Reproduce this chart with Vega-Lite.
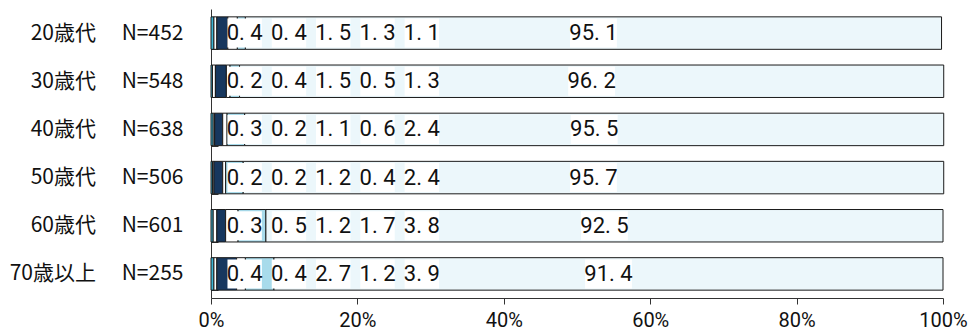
{
  "$schema": "https://vega.github.io/schema/vega-lite/v6.json",
  "width": 732,
  "height": 289,
  "autosize": {"type": "none"},
  "padding": {"left": 211, "top": 9, "right": 26, "bottom": 37},
  "background": "white",
  "config": {"view": {"stroke": null}, "font": "Noto Sans CJK JP"},
  "data": {
    "values": [
      {"age": "20歳代", "n": 452, "k": 1, "v": 0.4},
      {"age": "20歳代", "n": 452, "k": 2, "v": 0.4},
      {"age": "20歳代", "n": 452, "k": 3, "v": 1.5},
      {"age": "20歳代", "n": 452, "k": 4, "v": 1.3},
      {"age": "20歳代", "n": 452, "k": 5, "v": 1.1},
      {"age": "20歳代", "n": 452, "k": 6, "v": 95.1},
      {"age": "30歳代", "n": 548, "k": 1, "v": 0.2},
      {"age": "30歳代", "n": 548, "k": 2, "v": 0.4},
      {"age": "30歳代", "n": 548, "k": 3, "v": 1.5},
      {"age": "30歳代", "n": 548, "k": 4, "v": 0.5},
      {"age": "30歳代", "n": 548, "k": 5, "v": 1.3},
      {"age": "30歳代", "n": 548, "k": 6, "v": 96.2},
      {"age": "40歳代", "n": 638, "k": 1, "v": 0.3},
      {"age": "40歳代", "n": 638, "k": 2, "v": 0.2},
      {"age": "40歳代", "n": 638, "k": 3, "v": 1.1},
      {"age": "40歳代", "n": 638, "k": 4, "v": 0.6},
      {"age": "40歳代", "n": 638, "k": 5, "v": 2.4},
      {"age": "40歳代", "n": 638, "k": 6, "v": 95.5},
      {"age": "50歳代", "n": 506, "k": 1, "v": 0.2},
      {"age": "50歳代", "n": 506, "k": 2, "v": 0.2},
      {"age": "50歳代", "n": 506, "k": 3, "v": 1.2},
      {"age": "50歳代", "n": 506, "k": 4, "v": 0.4},
      {"age": "50歳代", "n": 506, "k": 5, "v": 2.4},
      {"age": "50歳代", "n": 506, "k": 6, "v": 95.7},
      {"age": "60歳代", "n": 601, "k": 1, "v": 0.3},
      {"age": "60歳代", "n": 601, "k": 2, "v": 0.5},
      {"age": "60歳代", "n": 601, "k": 3, "v": 1.2},
      {"age": "60歳代", "n": 601, "k": 4, "v": 1.7},
      {"age": "60歳代", "n": 601, "k": 5, "v": 3.8},
      {"age": "60歳代", "n": 601, "k": 6, "v": 92.5},
      {"age": "70歳以上", "n": 255, "k": 1, "v": 0.4},
      {"age": "70歳以上", "n": 255, "k": 2, "v": 0.4},
      {"age": "70歳以上", "n": 255, "k": 3, "v": 2.7},
      {"age": "70歳以上", "n": 255, "k": 4, "v": 1.2},
      {"age": "70歳以上", "n": 255, "k": 5, "v": 3.9},
      {"age": "70歳以上", "n": 255, "k": 6, "v": 91.4}
    ]
  },
  "transform": [
    {"calculate": "datum.age + '\u3000 N=' + datum.n", "as": "grp"},
    {"stack": "v", "groupby": ["grp"], "sort": [{"field": "k", "order": "ascending"}], "as": ["x0", "x1"]},
    {"calculate": "datum.k < 6 ? 4.6 + (datum.k - 1) * 6.05 : (datum.x0 + datum.x1) / 2", "as": "cx"},
    {"calculate": "datum.k < 6 ? 2.35 : 3.2", "as": "hw"},
    {"calculate": "datum.cx - datum.hw", "as": "bx0"},
    {"calculate": "datum.cx + datum.hw", "as": "bx1"},
    {"calculate": "replace(format(datum.v, '.1f'), '.', '. ')", "as": "txt"}
  ],
  "encoding": {
    "y": {
      "field": "grp",
      "type": "nominal",
      "sort": null,
      "scale": {"paddingInner": 0.326, "paddingOuter": 0.163},
      "axis": {
        "title": null,
        "domainColor": "#333",
        "tickColor": "#333",
        "tickBand": "extent",
        "tickSize": -7,
        "labelPadding": 35,
        "labelFont": "Noto Sans CJK JP",
        "labelFontSize": 21,
        "labelColor": "#111",
        "labelLimit": 300
      }
    }
  },
  "layer": [
    {
      "mark": {"type": "bar", "stroke": "#1a1a1a", "strokeWidth": 1},
      "encoding": {
        "x": {
          "field": "x0",
          "type": "quantitative",
          "scale": {"domain": [0, 100], "nice": false, "zero": true},
          "axis": {
            "values": [0, 20, 40, 60, 80, 100],
            "labelExpr": "datum.value + '%'",
            "title": null,
            "grid": false,
            "domainColor": "#333",
            "tickColor": "#333",
            "tickSize": 6,
            "labelFont": "Roboto",
            "labelFontSize": 20,
            "labelColor": "#111",
            "labelPadding": 6,
            "labelFlush": false
          }
        },
        "x2": {"field": "x1"},
        "color": {
          "field": "k",
          "type": "ordinal",
          "scale": {"domain": [1, 2, 3, 4, 5, 6], "range": ["#3cb4d4", "#ffffff", "#17375e", "#ffffff", "#a8dbeb", "#ecf7fb"]},
          "legend": null
        }
      }
    },
    {
      "mark": {"type": "bar", "fill": "#ffffff", "size": 29},
      "encoding": {
        "x": {"field": "bx0", "type": "quantitative"},
        "x2": {"field": "bx1"}
      }
    },
    {
      "mark": {"type": "text", "font": "Roboto", "fontSize": 22, "color": "#111", "align": "center", "baseline": "middle"},
      "encoding": {
        "x": {"field": "cx", "type": "quantitative"},
        "text": {"field": "txt"}
      }
    }
  ]
}
